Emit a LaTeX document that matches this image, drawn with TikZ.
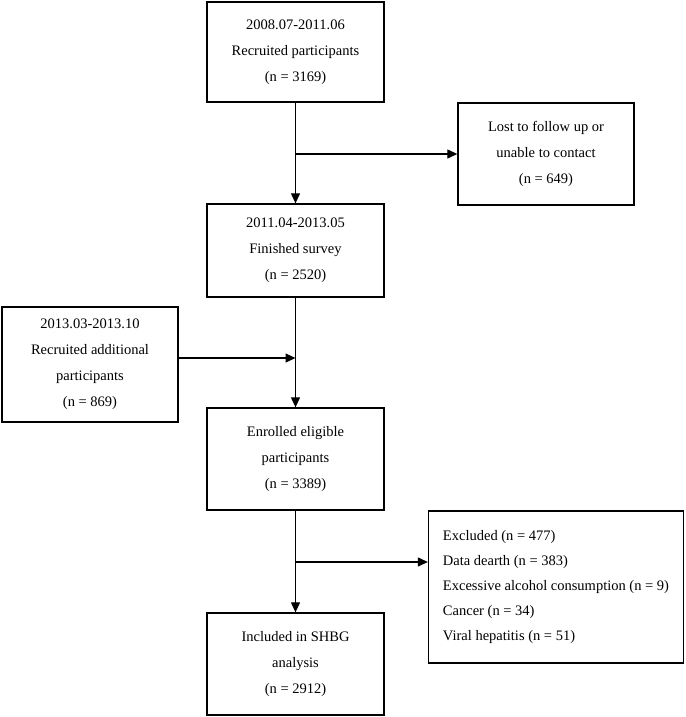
\documentclass[tikz,border=0pt]{standalone}
\usepackage{fontspec}
\setmainfont{Liberation Serif}
\usetikzlibrary{arrows.meta}

\tikzset{
	caja/.style={draw, line width=1.3pt, align=center, minimum width=177pt, inner sep=0pt, font=\fontsize{14.5}{26}\selectfont},
	flecha/.style={line width=1.1pt, -{Triangle[length=10pt,width=9pt]}},
	linea/.style={line width=1.1pt}
}

\begin{document}
\begin{tikzpicture}[x=1pt, y=-1pt]
		\useasboundingbox (0,0) rectangle (685,717);

		% Cajas del tronco principal ---------------------------------------------
		\node[caja, minimum height=100pt] (recluta) at (295.5, 52) {2008.07-2011.06\\Recruited participants\\(n = 3169)};
		\node[caja, minimum height=93pt] (encuesta) at (295.5, 250.5) {2011.04-2013.05\\Finished survey\\(n = 2520)};
		\node[caja, minimum height=102pt] (elegibles) at (295.5, 459) {Enrolled eligible\\participants\\(n = 3389)};
		\node[caja, minimum height=102pt] (incluidos) at (295.5, 664) {Included in SHBG\\analysis\\(n = 2912)};

		% Cajas laterales ----------------------------------------------------------
		\node[caja, minimum width=176pt, minimum height=102pt] (perdidos) at (546, 154) {Lost to follow up or\\unable to contact\\(n = 649)};
		\node[caja, minimum width=176pt, minimum height=115pt] (adicional) at (90, 364.5) {2013.03-2013.10\\Recruited additional\\participants\\(n = 869)};
		\node[caja, align=left, minimum width=255pt, minimum height=152pt, font=\fontsize{14.5}{25}\selectfont] (excluidos) at (556, 587) {Excluded (n = 477)\\Data dearth (n = 383)\\Excessive alcohol consumption (n = 9)\\Cancer (n = 34)\\Viral hepatitis (n = 51)};

		% Flechas ------------------------------------------------------------------
		\draw[flecha] (recluta) -- (encuesta);
		\draw[flecha] (encuesta) -- (elegibles);
		\draw[flecha] (elegibles) -- (incluidos);

		\coordinate (r1) at (recluta.south |- perdidos.west); % salida a perdidos
		\draw[flecha] (r1) -- (perdidos.west);

		\coordinate (r2) at (encuesta.south |- 0, 358); % entrada de adicionales
		\draw[flecha] (adicional.east |- r2) -- (r2);

		\coordinate (r3) at (elegibles.south |- 0, 562); % salida a excluidos
		\draw[flecha] (r3) -- (excluidos.west |- r3);
	\end{tikzpicture}
\end{document}
